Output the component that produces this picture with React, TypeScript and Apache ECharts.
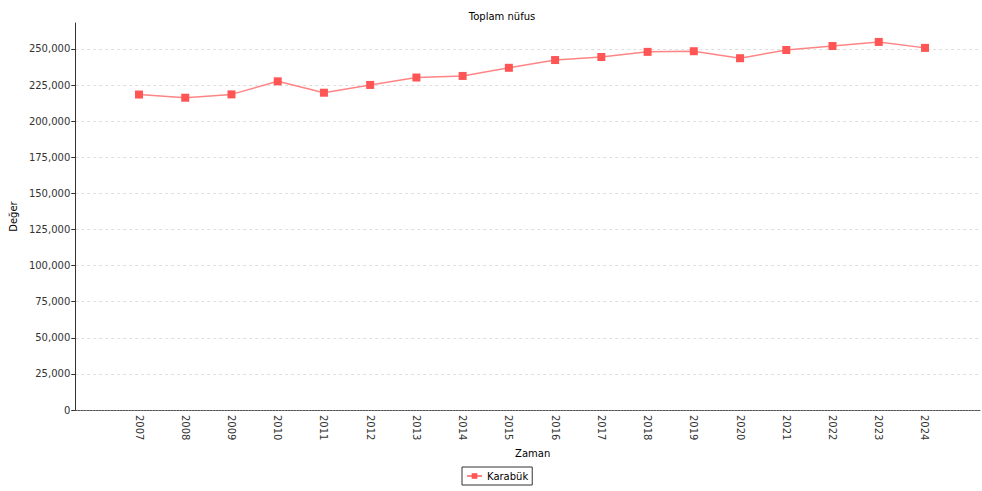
import React, { useEffect, useRef } from "react";
import * as echarts from "echarts";

const years = [2007, 2008, 2009, 2010, 2011, 2012, 2013, 2014, 2015, 2016, 2017, 2018, 2019, 2020, 2021, 2022, 2023, 2024];
const karabuk = [218463, 216248, 218564, 227610, 219728, 225102, 230251, 231333, 236978, 242347, 244453, 248014, 248458, 243614, 249287, 252058, 254889, 250776];
const yTicks = [0, 25000, 50000, 75000, 100000, 125000, 150000, 175000, 200000, 225000, 250000];

const FONT = "DejaVu Sans";

export default function App() {
  const ref = useRef<HTMLDivElement>(null);
  useEffect(() => {
    document.body.style.margin = "0";
    const chart = echarts.init(ref.current!, null, { renderer: "svg" });
    chart.setOption({
      animation: false,
      backgroundColor: "#ffffff",
      title: {
        text: "Toplam nüfus",
        left: 497,
        top: 6,
        textAlign: "center",
        textStyle: { fontFamily: FONT, fontSize: 10, fontWeight: "normal", color: "#000" },
      },
      grid: { left: 72, right: 2, top: 23, bottom: 81, containLabel: false },
      legend: {
        data: ["Karabük"],
        left: 462,
        top: 467,
        itemWidth: 15,
        itemHeight: 7,
        itemGap: 4,
        padding: [4, 4, 4, 4],
        borderColor: "#333",
        borderWidth: 1,
        borderRadius: 0,
        textStyle: { fontFamily: FONT, fontSize: 10, color: "#000" },
      },
      xAxis: {
        type: "value",
        min: 2005.621,
        max: 2025.19,
        name: "Zaman",
        nameLocation: "middle",
        nameGap: 38,
        nameTextStyle: { fontFamily: FONT, fontSize: 10, color: "#000", padding: [0, 0, 0, 10] },
        axisLine: { show: true, onZero: false, lineStyle: { color: "#555", width: 1, type: [2, 1] } },
        axisTick: { show: false },
        splitLine: { show: false },
        axisLabel: {
          customValues: years,
          rotate: -90,
          margin: 5,
          fontFamily: FONT,
          fontSize: 10,
          color: "#333",
          formatter: (v: number) => String(Math.round(v)),
        },
      },
      yAxis: {
        type: "value",
        min: 0,
        max: 268000,
        interval: 25000,
        name: "Değer",
        nameLocation: "middle",
        nameGap: 54,
        nameRotate: 90,
        nameTextStyle: { fontFamily: FONT, fontSize: 10, color: "#000" },
        axisLine: { show: true, lineStyle: { color: "#333", width: 1 } },
        axisTick: { show: true, length: 4, inside: false, customValues: yTicks, lineStyle: { color: "#333" } },
        axisLabel: {
          customValues: yTicks,
          margin: 5,
          fontFamily: FONT,
          fontSize: 10,
          color: "#333",
          formatter: (v: number) => v.toLocaleString("en-US"),
        },
        splitLine: { show: true, lineStyle: { color: "#dddddd", type: [3, 3], width: 1 } },
      },
      series: [
        {
          name: "Karabük",
          type: "line",
          data: years.map((y, i) => [y, karabuk[i]]),
          symbol: "rect",
          symbolSize: 8,
          lineStyle: { color: "#FF8585", width: 1.5 },
          itemStyle: { color: "#FF5555" },
        },
      ],
    });
    return () => chart.dispose();
  }, []);
  return <div ref={ref} style={{ position: "absolute", left: 0, top: 0, width: 982, height: 491 }} />;
}
